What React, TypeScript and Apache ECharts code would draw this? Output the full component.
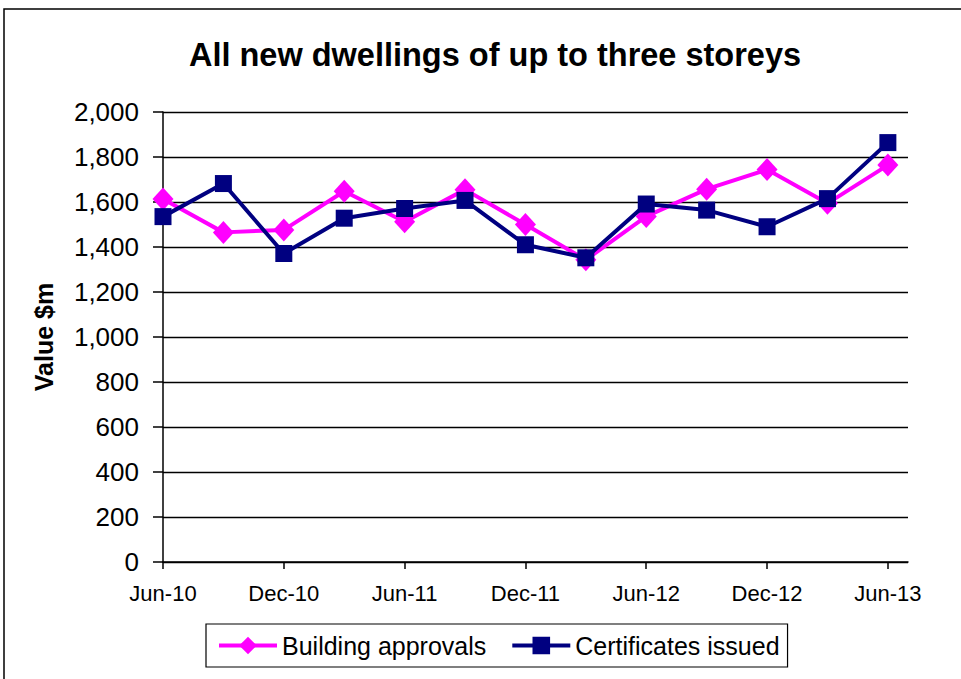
import React, { useEffect, useRef } from "react";
import * as echarts from "echarts";

const quarters = ["Jun-10","Sep-10","Dec-10","Mar-11","Jun-11","Sep-11","Dec-11","Mar-12","Jun-12","Sep-12","Dec-12","Mar-13","Jun-13"];
const buildingApprovals = [1613,1465,1476,1648,1512,1655,1500,1343,1536,1657,1744,1594,1764];
const certificatesIssued = [1535,1682,1371,1528,1571,1607,1410,1352,1591,1564,1490,1615,1864];
const yTicks = [0,200,400,600,800,1000,1200,1400,1600,1800,2000];

const FONT = "Liberation Sans, Arial, sans-serif";

export default function App() {
  const ref = useRef<HTMLDivElement>(null);
  useEffect(() => {
    if (!ref.current) return;
    const chart = echarts.init(ref.current, undefined, { renderer: "svg" });
    // monthly slots (date-axis style): 36 months plus one trailing month
    const slots = (quarters.length - 1) * 3 + 2;
    const slotLabels: string[] = [];
    for (let i = 0; i < slots; i++) {
      slotLabels.push(i % 3 === 0 && i / 3 < quarters.length ? quarters[i / 3] : "");
    }
    const toSlots = (vals: number[]) => {
      const arr: (number | null)[] = new Array(slots).fill(null);
      vals.forEach((v, i) => (arr[i * 3] = v));
      return arr;
    };
    chart.setOption({
      animation: false,
      backgroundColor: "#fff",
      title: {
        text: "All new dwellings of up to three storeys",
        left: 490,
        textAlign: "center",
        top: 33,
        textStyle: { fontFamily: FONT, fontSize: 32.5, fontWeight: "bold", color: "#000" },
      },
      graphic: [
        {
          type: "rect",
          shape: { x: 4, y: 9, width: 1000, height: 700 },
          style: { fill: "none", stroke: "#000", lineWidth: 1.5 },
          silent: true,
        },
      ],
      grid: { left: 163, top: 112, width: 745, height: 450, containLabel: false },
      legend: {
        top: 624,
        left: 206,
        padding: [9, 8, 9, 11],
        borderColor: "#000",
        borderWidth: 1.2,
        itemWidth: 58,
        itemHeight: 22,
        itemGap: 24,
        lineStyle: { width: 4 },
        textStyle: { fontFamily: FONT, fontSize: 25, color: "#000" },
        data: ["Building approvals", "Certificates issued"],
      },
      xAxis: {
        type: "category",
        boundaryGap: false,
        data: slotLabels,
        axisLine: { lineStyle: { color: "#000", width: 1.5 } },
        axisTick: { interval: 5, length: 7, lineStyle: { color: "#000", width: 1.5 } },
        axisLabel: {
          interval: 5,
          margin: 20,
          fontFamily: FONT,
          fontSize: 22,
          color: "#000",
        },
        splitLine: { show: false },
      },
      yAxis: {
        type: "value",
        min: yTicks[0],
        max: yTicks[yTicks.length - 1],
        interval: 200,
        name: "Value $m",
        nameLocation: "middle",
        nameGap: 107,
        nameTextStyle: { fontFamily: FONT, fontSize: 25, fontWeight: "bold", color: "#000" },
        axisLine: { show: true, lineStyle: { color: "#000", width: 1.5 } },
        axisTick: { show: true, length: 10, lineStyle: { color: "#000", width: 1.5 } },
        axisLabel: {
          margin: 24,
          fontFamily: FONT,
          fontSize: 26,
          color: "#000",
          formatter: (v: number) => v.toLocaleString("en-US"),
        },
        splitLine: { show: true, lineStyle: { color: "#000", width: 1.4 } },
      },
      series: [
        {
          name: "Building approvals",
          type: "line",
          data: toSlots(buildingApprovals),
          connectNulls: true,
          showAllSymbol: true,
          symbol: "diamond",
          symbolSize: [21, 23],
          itemStyle: { color: "#FF00FF" },
          lineStyle: { color: "#FF00FF", width: 4 },
          z: 2,
        },
        {
          name: "Certificates issued",
          type: "line",
          data: toSlots(certificatesIssued),
          connectNulls: true,
          showAllSymbol: true,
          symbol: "rect",
          symbolSize: 17,
          itemStyle: { color: "#000080" },
          lineStyle: { color: "#000080", width: 4 },
          z: 3,
        },
      ],
    });
    return () => chart.dispose();
  }, []);
  return (
    <div
      ref={ref}
      style={{ position: "fixed", left: 0, top: 0, width: 961, height: 679 }}
    />
  );
}
